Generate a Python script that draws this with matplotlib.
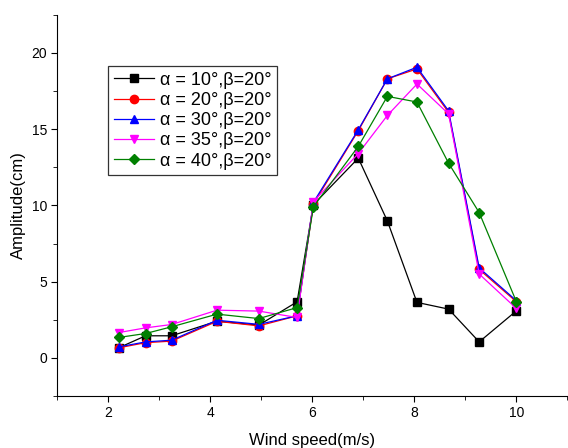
import numpy as np
import matplotlib
matplotlib.use("Agg")
import matplotlib.pyplot as plt
from matplotlib.ticker import MultipleLocator

plt.rcParams['font.family'] = ['Liberation Sans', 'DejaVu Sans']

# wind speed (m/s)
wind = [2.2, 2.73, 3.24, 4.13, 4.95, 5.7, 6.02, 6.9, 7.47, 8.05, 8.67, 9.27, 10.0]

# amplitude (cm) per alpha, beta = 20 deg
amp_10 = [0.66, 1.45, 1.45, 2.41, 2.15, 3.68, 10.05, 13.1, 8.98, 3.64, 3.2, 1.05, 3.09]
amp_20 = [0.66, 1.0, 1.1, 2.4, 2.1, 2.76, 10.1, 14.9, 18.3, 18.95, 16.1, 5.8, 3.68]
amp_30 = [0.72, 1.05, 1.16, 2.47, 2.2, 2.76, 10.2, 14.96, 18.3, 19.06, 16.2, 5.9, 3.75]
amp_35 = [1.66, 1.97, 2.19, 3.13, 3.07, 2.65, 10.25, 13.4, 15.9, 17.96, 16.0, 5.5, 3.24]
amp_40 = [1.34, 1.6, 2.04, 2.87, 2.58, 3.3, 9.92, 13.87, 17.15, 16.78, 12.77, 9.53, 3.68]

labels = ['α = 10°,β=20°', 'α = 20°,β=20°', 'α = 30°,β=20°',
          'α = 35°,β=20°', 'α = 40°,β=20°']
colors = ['black', 'red', 'blue', 'magenta', 'green']
markers = ['s', 'o', '^', 'v', 'D']

fig = plt.figure(figsize=(5.68, 4.48), dpi=100)
ax = fig.add_axes([0.101, 0.116, 0.898, 0.851])

series = [amp_10, amp_20, amp_30, amp_35, amp_40]
for y, lab, c, m in zip(series, labels, colors, markers):
    ms = 5.5 if m == 'D' else 6
    ax.plot(wind, y, color=c, marker=m, markersize=ms, linewidth=0.9,
            label=lab, markeredgecolor=c)

ax.set_xlim(1, 11)
ax.set_ylim(-2.5, 22.5)
ax.xaxis.set_major_locator(MultipleLocator(2))
ax.xaxis.set_minor_locator(MultipleLocator(1))
ax.yaxis.set_major_locator(MultipleLocator(5))
ax.yaxis.set_minor_locator(MultipleLocator(2.5))
ax.set_yticks([0, 5, 10, 15, 20])
ax.tick_params(which='both', direction='out', labelsize=10)
ax.tick_params(which='major', length=4)
ax.tick_params(which='minor', length=3)
ax.spines['top'].set_visible(False)
ax.spines['right'].set_visible(False)

ax.set_xlabel('Wind speed(m/s)', fontsize=12, labelpad=9)
ax.set_ylabel('Amplitude(cm)', fontsize=12)

leg = ax.legend(loc='upper left', bbox_to_anchor=(0.1, 0.865), fontsize=13,
                fancybox=False, framealpha=1, edgecolor='#333333',
                handlelength=2.2, labelspacing=0.18, borderpad=0.3,
                handletextpad=0.35, borderaxespad=0)
leg.get_frame().set_linewidth(0.9)

fig.savefig('out.png', dpi=100)
